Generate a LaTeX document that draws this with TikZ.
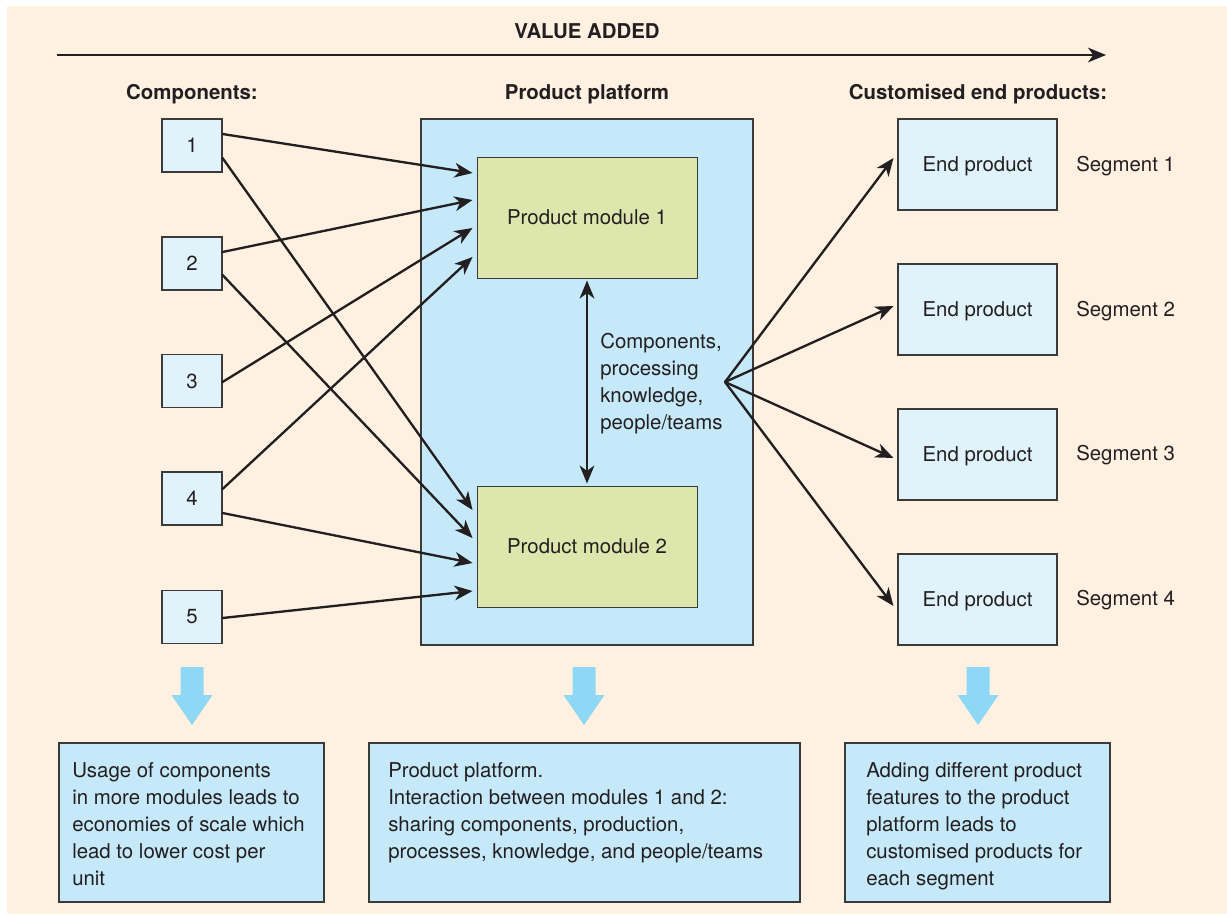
\documentclass[tikz,border=0pt]{standalone}
\usepackage{fontspec}
\setmainfont{TeX Gyre Heros}
\usetikzlibrary{calc,arrows.meta}

\definecolor{cream}{HTML}{FEF1E2}
\definecolor{paleblue}{HTML}{E0F3FB}
\definecolor{midblue}{HTML}{C6E9F9}
\definecolor{modgreen}{HTML}{DDE7AD}
\definecolor{hintblue}{HTML}{8ED8F6}
\definecolor{ink}{HTML}{231F20}
\definecolor{edge}{HTML}{3A3A3A}

\tikzset{
  basefont/.style={font=\fontsize{15.3}{20.25}\selectfont, text=ink},
  heading/.style={basefont, font=\fontsize{15.3}{20.25}\selectfont\bfseries, anchor=base, inner sep=0pt},
  label/.style={basefont, inner sep=0pt},
  para/.style={basefont, inner sep=0pt, anchor=north west, align=left},
  compbox/.style={basefont, draw=edge, fill=paleblue, line width=0.8pt,
    minimum width=45pt, minimum height=39.75pt, inner sep=0pt},
  endbox/.style={basefont, draw=edge, fill=paleblue, line width=0.8pt,
    minimum width=119.25pt, minimum height=68.25pt, inner sep=0pt, text depth=0pt},
  modbox/.style={basefont, draw=edge, fill=modgreen, line width=0.7pt,
    minimum width=165pt, minimum height=90.75pt, inner sep=0pt},
  platbox/.style={draw=edge, fill=midblue, line width=0.8pt,
    minimum width=249pt, minimum height=394.5pt, inner sep=0pt},
  notebox/.style={draw=edge, fill=midblue, line width=0.8pt,
    minimum height=119.25pt, inner sep=0pt},
  tip/.tip={Stealth[length=13.5pt,width=11pt,inset=4pt]},
  flow/.style={-tip, line width=1.75pt, draw=ink, line cap=round},
  bothflow/.style={tip-tip, line width=1.75pt, draw=ink},
  downhint/.pic={
    \fill[hintblue] (-11.5,0) -- ++(23,0) -- ++(0,28) -- ++(9,0)
      -- ++(-20.5,30) -- ++(-20.5,-30) -- ++(9,0) -- cycle;
  }
}

\begin{document}
\begin{tikzpicture}[x=0.75pt,y=-0.75pt]
  \useasboundingbox (0,0) rectangle (1227,914);
  \fill[cream] (7,6) rectangle (1227,914);

  % value-added axis
  \node[heading] (title) at (587,38) {VALUE ADDED};
  \coordinate (va-start) at (57,55);
  \coordinate (va-end) at (1106,55);
  \draw[flow, line cap=butt] (va-start) -- (va-end);

  % column headings
  \node[heading] (h-comp) at (192,99) {Components:};
  \node[heading] (h-plat) at (587,99) {Product platform};
  \node[heading] (h-end) at (978,99) {Customised end products:};

  % components
  \node[compbox] (c1) at (192,145.5) {1};
  \node[compbox] (c2) at (192,263.5) {2};
  \node[compbox] (c3) at (192,381) {3};
  \node[compbox] (c4) at (192,498.5) {4};
  \node[compbox] (c5) at (192,617) {5};

  % product platform with its two modules
  \node[platbox] (plat) at (587,382) {};
  \node[modbox] (m1) at (587,217.5) {Product module 1};
  \node[modbox] (m2) at (587,546.5) {Product module 2};
  \node[para] (share) at (600,333) {Components,\\processing\\knowledge,\\people/teams};

  % customised end products
  \node[endbox] (e1) at (977.5,164.5) {End product};
  \node[endbox] (e2) at (977.5,309.5) {End product};
  \node[endbox] (e3) at (977.5,454.5) {End product};
  \node[endbox] (e4) at (977.5,599.5) {End product};
  \node[label, anchor=base west] (s1) at (1076,171) {Segment 1};
  \node[label, anchor=base west] (s2) at (1076,316) {Segment 2};
  \node[label, anchor=base west] (s3) at (1076,460) {Segment 3};
  \node[label, anchor=base west] (s4) at (1076,605) {Segment 4};

  % components feeding the modules
  \draw[flow] ($(c1.east)+(0,-11.5)$) -- ($(m1.west)+(-4,-44.5)$);
  \draw[flow] ($(c1.east)+(0,12.5)$)  -- ($(m2.west)+(-4,-36.5)$);
  \draw[flow] ($(c2.east)+(0,-11.5)$) -- ($(m1.west)+(-4,-17.5)$);
  \draw[flow] ($(c2.east)+(0,11.5)$)  -- ($(m2.west)+(-4,-8.5)$);
  \draw[flow] ($(c3.east)+(0,1)$)     -- ($(m1.west)+(-4,10.5)$);
  \draw[flow] ($(c4.east)+(0,-9.5)$)  -- ($(m1.west)+(-4,39.5)$);
  \draw[flow] ($(c4.east)+(0,14.5)$)  -- ($(m2.west)+(-4,16.5)$);
  \draw[flow] ($(c5.east)+(0,1)$)     -- ($(m2.west)+(-4,44.5)$);

  % interaction between modules
  \draw[bothflow] ($(m1.south)+(0,2)$) -- ($(m2.north)+(0,-2)$);

  % platform fanning out to the end products
  \coordinate (hub) at (725,382);
  \draw[flow] (hub) -- ($(e1.west)+(-4,-6.5)$);
  \draw[flow] (hub) -- ($(e2.west)+(-4,-3.5)$);
  \draw[flow] (hub) -- ($(e3.west)+(-4,3.5)$);
  \draw[flow] (hub) -- ($(e4.west)+(-4,6.5)$);

  % downward hints
  \pic at (192,667) {downhint};
  \pic at (584,667) {downhint};
  \pic at (978,667) {downhint};

  % explanatory notes
  \node[notebox, minimum width=198.75pt] (n1) at (191.5,822.5) {};
  \node[notebox, minimum width=323.25pt] (n2) at (584.5,822.5) {};
  \node[notebox, minimum width=198.75pt] (n3) at (977.5,822.5) {};
  \node[para] (t1) at (72,762) {Usage of components\\in more modules leads to\\economies of scale which\\lead to lower cost per\\unit};
  \node[para] (t2) at (388,762) {Product platform.\\Interaction between modules 1 and 2:\\sharing components, production,\\processes, knowledge, and people/teams};
  \node[para] (t3) at (866,762) {Adding different product\\features to the product\\platform leads to\\customised products for\\each segment};
\end{tikzpicture}
\end{document}
